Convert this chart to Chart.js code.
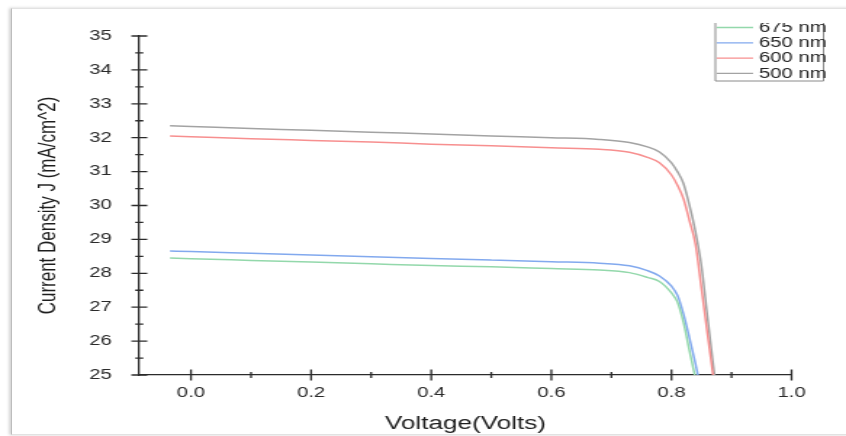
<!DOCTYPE html>
<html>
<head>
<meta charset="utf-8">
<script src="https://cdn.jsdelivr.net/npm/chart.js@4.4.1/dist/chart.umd.min.js"></script>
<style>
html,body{margin:0;padding:0;background:#fff;overflow:hidden}
#wrap{position:relative;width:846px;height:436px}
#frame{position:absolute;left:11px;top:8px;right:-4px;bottom:1px;border-left:1px solid #bdbdbd;border-top:1px solid #e2e2e2;border-bottom:1px solid #e2e2e2;box-shadow:-2px 0 3px rgba(0,0,0,.18)}
#chart{position:absolute;left:0;top:0}
</style>
</head>
<body>
<div id="wrap">
	<div id="frame"></div>
	<!-- drawn narrow, then stretched sideways like the source image -->
	<canvas id="chart" width="583" height="436" style="width:846px;height:436px"></canvas>
</div>
<script>
// J-V curves
const voltage = [-0.035, 0.0, 0.1, 0.2, 0.3, 0.4, 0.5, 0.6, 0.68, 0.73, 0.76, 0.78, 0.80, 0.81, 0.82, 0.83, 0.84, 0.85, 0.86, 0.87, 0.88];
const j675 = [28.45, 28.43, 28.38, 28.33, 28.28, 28.23, 28.19, 28.14, 28.10, 28.02, 27.88, 27.76, 27.42, 27.15, 26.55, 25.71, 24.90, null, null, null, null];
const j650 = [28.66, 28.64, 28.59, 28.54, 28.49, 28.44, 28.39, 28.34, 28.30, 28.22, 28.08, 27.92, 27.62, 27.35, 26.80, 26.09, 25.33, 24.50, null, null, null];
const j600 = [32.05, 32.03, 31.97, 31.92, 31.87, 31.81, 31.76, 31.70, 31.66, 31.57, 31.42, 31.26, 30.90, 30.60, 30.20, 29.55, 28.85, 27.54, 26.20, 24.90, null];
const j500 = [32.35, 32.33, 32.27, 32.22, 32.16, 32.11, 32.05, 32.00, 31.95, 31.86, 31.73, 31.58, 31.26, 31.00, 30.65, 30.00, 29.22, 28.20, 26.70, 25.24, 23.80];
const seriesNames = ['675 nm', '650 nm', '600 nm', '500 nm'];
const seriesColors = ['#93d8ab', '#82a9ee', '#f78f8f', '#a3a3a3'];
const xTicks = [0.0, 0.2, 0.4, 0.6, 0.8, 1.0];
const yTicks = [25, 26, 27, 28, 29, 30, 31, 32, 33, 34, 35];

const FONT = "'Liberation Sans', Arial, sans-serif";

function pts(ys) {
	let out = [];
	for (let i = 0; i < voltage.length; i++) {
		if (ys[i] !== null) out.push({x: voltage[i], y: ys[i]});
	}
	return out;
}

// ticks crossing the axis lines, as in the original plot
const crossTicks = {
	id: 'crossTicks',
	afterDraw(chart) {
		const ctx = chart.ctx;
		const a = chart.chartArea;
		const xs = chart.scales.x, ys = chart.scales.y;
		ctx.save();
		ctx.strokeStyle = '#2b2b2b';
		ctx.lineWidth = 1.3;
		ctx.beginPath();
		ys.ticks.forEach(t => {
			const py = ys.getPixelForValue(t.value);
			const len = yTicks.includes(t.value) ? 5.5 : 2.8;
			ctx.moveTo(a.left - len, py);
			ctx.lineTo(a.left + len, py);
		});
		xs.ticks.forEach(t => {
			const px = xs.getPixelForValue(t.value);
			const major = xTicks.some(v => Math.abs(v - t.value) < 1e-6);
			const len = major ? 5.5 : 3;
			ctx.moveTo(px, a.bottom - len);
			ctx.lineTo(px, a.bottom + len);
		});
		ctx.stroke();
		ctx.restore();
	}
};

// legend box in the top right corner, its top cut off like the source
const boxLegend = {
	id: 'boxLegend',
	afterDraw(chart) {
		const ctx = chart.ctx;
		const x0 = 493, x1 = 567.5, yTop = 23, yBot = 81;
		ctx.save();
		ctx.beginPath();
		ctx.rect(x0 - 2, yTop, x1 - x0 + 4, yBot - yTop + 2);
		ctx.clip();
		ctx.fillStyle = '#fff';
		ctx.fillRect(x0, yTop, x1 - x0, yBot - yTop);
		ctx.strokeStyle = '#8a8a8a';
		ctx.lineWidth = 1;
		ctx.beginPath();
		ctx.moveTo(x0, yTop);
		ctx.lineTo(x0, yBot);
		ctx.lineTo(x1, yBot);
		ctx.lineTo(x1, yTop);
		ctx.stroke();
		ctx.font = '14px ' + FONT;
		ctx.textBaseline = 'middle';
		chart.data.datasets.forEach((ds, i) => {
			const y = 27.5 + i * 15.3;
			ctx.strokeStyle = ds.borderColor;
			ctx.lineWidth = 1.3;
			ctx.beginPath();
			ctx.moveTo(x0 + 1, y);
			ctx.lineTo(x0 + 26, y);
			ctx.stroke();
			ctx.fillStyle = '#222';
			ctx.fillText(ds.label, x0 + 30, y + 0.5);
		});
		ctx.restore();
	}
};

const ctx = document.getElementById('chart').getContext('2d');
new Chart(ctx, {
	type: 'line',
	data: {
		datasets: [
			{label: seriesNames[0], data: pts(j675), borderColor: seriesColors[0]},
			{label: seriesNames[1], data: pts(j650), borderColor: seriesColors[1]},
			{label: seriesNames[2], data: pts(j600), borderColor: seriesColors[2]},
			{label: seriesNames[3], data: pts(j500), borderColor: seriesColors[3]},
		]
	},
	options: {
		responsive: false,
		animation: false,
		layout: {padding: {top: 36, right: 37.5, left: 0, bottom: 0}},
		elements: {
			point: {radius: 0},
			line: {borderWidth: 1.5, cubicInterpolationMode: 'monotone', fill: false}
		},
		plugins: {legend: {display: false}, tooltip: {enabled: false}},
		scales: {
			x: {
				type: 'linear',
				min: -0.086,
				max: 1.0,
				afterFit: s => { s.height = 61; },
				border: {display: true, color: '#2b2b2b', width: 1.3},
				grid: {display: true, color: 'transparent', drawOnChartArea: false, tickLength: 6},
				ticks: {
					stepSize: 0.1,
					includeBounds: false,
					autoSkip: false,
					maxRotation: 0,
					padding: 4,
					color: '#2a2a2a',
					font: {family: FONT, size: 14},
					callback: v => xTicks.some(t => Math.abs(t - v) < 1e-6) ? v.toFixed(1) : ''
				},
				title: {
					display: true,
					text: 'Voltage(Volts)',
					color: '#1e1e1e',
					font: {family: FONT, size: 18},
					padding: {top: 0, bottom: 1}
				}
			},
			y: {
				min: 25,
				max: 35,
				afterFit: s => { s.width = 96; },
				border: {display: true, color: '#2b2b2b', width: 1.3},
				grid: {display: true, color: 'transparent', drawOnChartArea: false, tickLength: 6},
				ticks: {
					stepSize: 0.5,
					autoSkip: false,
					padding: 13,
					color: '#2a2a2a',
					font: {family: FONT, size: 14},
					callback: v => yTicks.includes(v) ? String(v) : ''
				},
				title: {
					display: true,
					text: 'Current Density J (mA/cm^2)',
					color: '#1e1e1e',
					font: {family: FONT, size: 17},
					padding: {top: 23, bottom: 0}
				}
			}
		}
	},
	plugins: [crossTicks, boxLegend]
});
</script>
</body>
</html>
